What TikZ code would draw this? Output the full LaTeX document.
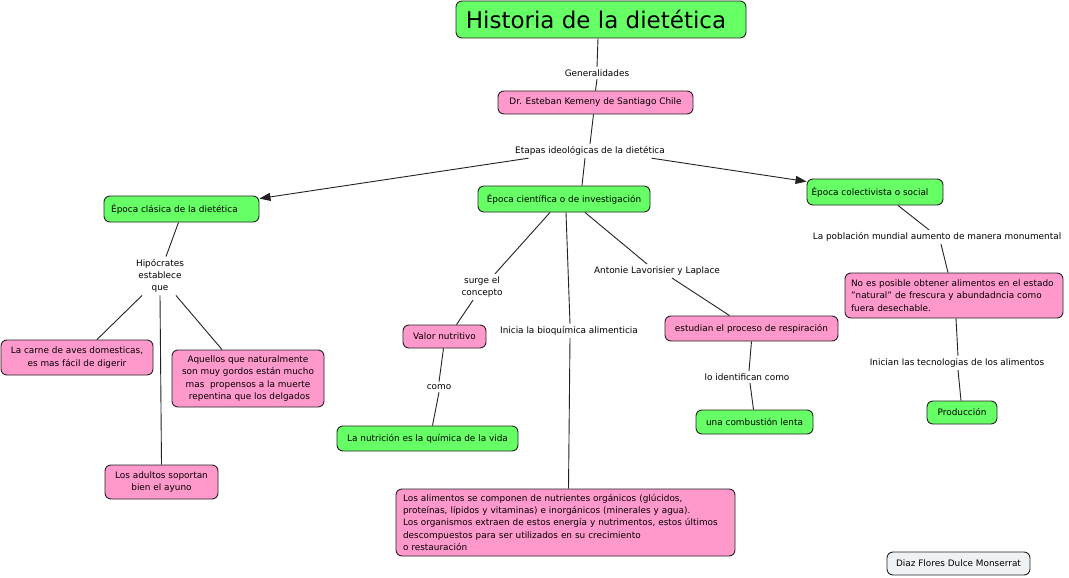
\documentclass[tikz,border=0pt]{standalone}
\usepackage{fontspec}
\setmainfont{DejaVu Sans}
\usetikzlibrary{arrows.meta}
\definecolor{gfill}{HTML}{66FF66}
\definecolor{pfill}{HTML}{FF99CC}
\definecolor{afill}{HTML}{EEF2F5}
\definecolor{bord}{HTML}{222222}
\tikzset{
  box/.style={draw=bord, line width=0.9pt, rounded corners=6pt, inner sep=0pt, align=center,
    font=\fontsize{8.9}{12.3}\selectfont},
  gbox/.style={box, fill=gfill},
  pbox/.style={box, fill=pfill},
  abox/.style={box, fill=afill},
  lbl/.style={inner sep=2.5pt, align=center, font=\fontsize{8.9}{12.3}\selectfont},
  conn/.style={draw=bord, line width=0.9pt},
  arr/.style={conn, -{Triangle[length=11pt,width=8pt]}},
}
\begin{document}
\begin{tikzpicture}[x=1pt,y=-1pt]
\useasboundingbox (0,0) rectangle (1069,578);
\fill[white] (0,0) rectangle (1069,578);
% boxes
\node[gbox, minimum width=290pt, minimum height=37pt, font=\fontsize{23}{26}\selectfont] (title) at (601,19.5) {Historia de la dietética\hspace*{10pt}};
\node[pbox, minimum width=195pt, minimum height=23pt] (dr) at (595.5,102.5) {Dr. Esteban Kemeny de Santiago Chile};
\node[gbox, minimum width=155pt, minimum height=26pt] (clasica) at (181.5,209) {Época clásica de la dietética\hspace*{14pt}};
\node[gbox, minimum width=172pt, minimum height=26pt] (cientifica) at (564,199) {Época científica o de investigación};
\node[gbox, minimum width=136pt, minimum height=26pt] (colect) at (875,192) {Época colectivista o social\hspace*{10pt}};
\node[pbox, minimum width=152pt, minimum height=35pt] (carne) at (77,357.5) {La carne de aves domesticas,\\ es mas fácil de digerir};
\node[pbox, minimum width=152pt, minimum height=57pt] (aquellos) at (248,378.5) {Aquellos que naturalmente\\son muy gordos están mucho\\mas \ propensos a la muerte\\ \ repentina que los delgados};
\node[pbox, minimum width=113pt, minimum height=34pt] (adultos) at (161.5,482) {Los adultos soportan\\bien el ayuno};
\node[pbox, minimum width=83pt, minimum height=23pt] (valor) at (444.5,336.5) {Valor nutritivo};
\node[gbox, minimum width=181pt, minimum height=25pt] (nutricion) at (427.5,438.5) {La nutrición es la química de la vida};
\node[pbox, minimum height=67pt, text width=325pt, inner xsep=7pt, align=left] (alimentos) at (565.5,522.5) {Los alimentos se componen de nutrientes orgánicos (glúcidos,\\proteínas, lípidos y vitaminas) e inorgánicos (minerales y agua).\\Los organismos extraen de estos energía y nutrimentos, estos últimos\\descompuestos para ser utilizados en su crecimiento\\o restauración};
\node[pbox, minimum width=173pt, minimum height=25pt] (estudian) at (751.5,328.5) {estudian el proceso de respiración};
\node[gbox, minimum width=117pt, minimum height=24pt] (combustion) at (754.5,422) {una combustión lenta};
\node[pbox, minimum height=45pt, text width=206pt, inner xsep=6pt, align=left] (noes) at (954,295.5) {No es posible obtener alimentos en el estado\\"natural" de frescura y abundadncia como\\fuera desechable.};
\node[gbox, minimum width=70pt, minimum height=23pt] (produccion) at (962,412.5) {Producción};
\node[abox, minimum width=143pt, minimum height=23pt] (diaz) at (958.5,563.5) {Diaz Flores Dulce Monserrat};
% labels
\node[lbl] (gen) at (597,73) {Generalidades};
\node[lbl] (etapas) at (590,151) {Etapas ideológicas de la dietética};
\node[lbl] (hipo) at (160,276) {Hipócrates\\establece\\que};
\node[lbl] (surge) at (482,287) {surge el\\concepto};
\node[lbl] (como) at (439,387) {como};
\node[lbl] (inicia) at (569,331) {Inicia la bioquímica alimenticia};
\node[lbl] (antonie) at (657,271) {Antonie Lavorisier y Laplace};
\node[lbl] (lo) at (747,377) {lo identifican como};
\node[lbl] (poblacion) at (937,237) {La población mundial aumento de manera monumental};
\node[lbl] (inician) at (957,363) {Inician las tecnologias de los alimentos};
% connectors
\draw[conn] ([xshift=-3pt]title.south) -- (gen.north);
\draw[conn] (gen.south) -- (dr.north);
\draw[conn] ([xshift=-2pt]dr.south) -- (etapas.north);
\draw[arr] ([xshift=16pt]etapas.south west) -- ([yshift=-3pt]clasica.north east);
\draw[conn] ([xshift=-5pt]etapas.south) -- ([xshift=18pt]cientifica.north);
\draw[arr] ([xshift=-16pt]etapas.south east) -- ([yshift=-3pt]colect.north west);
\draw[conn] ([xshift=-3pt]clasica.south) -- ([xshift=6pt]hipo.north);
\draw[conn] ([xshift=-18pt]hipo.south) -- ([xshift=20pt]carne.north);
\draw[conn] (hipo.south) -- (adultos.north);
\draw[conn] ([xshift=16pt]hipo.south) -- ([xshift=-26pt]aquellos.north);
\draw[conn] ([xshift=-14pt]cientifica.south) -- ([xshift=13pt]surge.north);
\draw[conn] ([xshift=-9pt]surge.south) -- ([xshift=12pt]valor.north);
\draw[conn] ([xshift=-1pt]valor.south) -- (como.north);
\draw[conn] (como.south) -- ([xshift=5pt]nutricion.north);
\draw[conn] ([xshift=2pt]cientifica.south) -- ([xshift=1pt]inicia.north);
\draw[conn] ([xshift=1pt]inicia.south) -- ([xshift=3pt]alimentos.north);
\draw[conn] ([xshift=21pt]cientifica.south) -- ([xshift=-10pt]antonie.north);
\draw[conn] ([xshift=15pt]antonie.south) -- ([xshift=-22pt]estudian.north);
\draw[conn] (estudian.south) -- ([xshift=2pt]lo.north);
\draw[conn] ([xshift=3pt]lo.south) -- ([xshift=-1pt]combustion.north);
\draw[conn] ([xshift=23pt]colect.south) -- ([xshift=-8pt]poblacion.north);
\draw[conn] ([xshift=4pt]poblacion.south) -- ([xshift=-6pt]noes.north);
\draw[conn] ([xshift=2pt]noes.south) -- ([xshift=1pt]inician.north);
\draw[conn] ([xshift=1pt]inician.south) -- ([xshift=-1pt]produccion.north);
\end{tikzpicture}
\end{document}
